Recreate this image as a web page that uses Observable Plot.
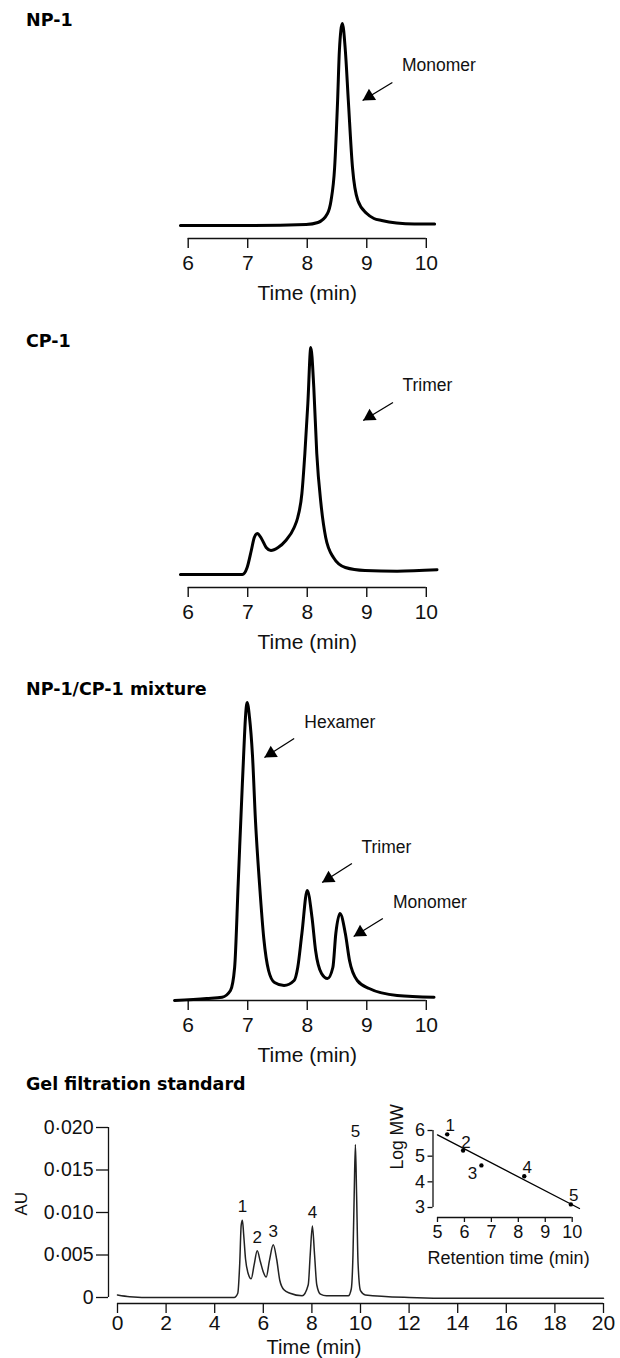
<!DOCTYPE html>
<html><head><meta charset="utf-8">
<script src="https://cdn.jsdelivr.net/npm/d3@7"></script>
<script src="https://cdn.jsdelivr.net/npm/@observablehq/plot@0.6"></script>
<style>
body{margin:0;background:#fff;}
#wrap{position:relative;width:620px;height:1358px;overflow:hidden;background:#fff;}
#wrap svg text{font-family:'Liberation Sans',Arial,Helvetica,sans-serif;}
.title{position:absolute;left:26px;font-family:'DejaVu Sans',sans-serif;font-weight:bold;font-size:17.5px;line-height:17.5px;color:#000;white-space:nowrap;}
</style></head><body><div id="wrap"></div>
<script>
// ---------- data ----------
const xTicks = [6, 7, 8, 9, 10];

const np1Time   = [5.87, 7.0, 7.98, 8.18, 8.34, 8.40, 8.46, 8.51, 8.54, 8.59, 8.64, 8.69, 8.76, 8.85, 9.0, 9.12, 9.25, 9.5, 9.8, 10.14];
const np1Signal = [0, 0, 1, 3, 12, 25, 58, 125, 175, 202, 175, 125, 58, 25, 12, 7, 5, 2.5, 1.5, 1.5];

const cp1Time   = [5.87, 6.91, 6.99, 7.06, 7.11, 7.16, 7.23, 7.31, 7.39, 7.51, 7.64, 7.78, 7.84, 7.91, 7.96, 8.01, 8.06, 8.11, 8.16, 8.23, 8.31, 8.44, 8.64, 8.97, 9.51, 10.18];
const cp1Signal = [0, 0, 7, 24, 37, 41, 36, 27, 24, 27, 34, 47, 57, 81, 121, 171, 227, 187, 121, 71, 37, 17, 7, 4, 3.3, 4.7];

const mixTime   = [5.77, 6.31, 6.57, 6.71, 6.78, 6.84, 6.91, 6.99, 7.03, 7.08, 7.13, 7.2, 7.27, 7.35, 7.45, 7.61, 7.78, 7.84, 7.91, 8.0, 8.08, 8.14, 8.24, 8.34, 8.43, 8.48, 8.55, 8.64, 8.71, 8.84, 9.04, 9.51, 10.13];
const mixSignal = [0, 2, 3.3, 10, 33, 117, 217, 298, 283, 245, 180, 115, 62, 30, 18, 15, 20, 33, 67, 110, 83, 50, 27, 22, 33, 67, 87, 67, 40, 20, 12, 5, 3.3];

// annotations: label text, label anchor, arrow tail, arrow tip (time, signal)
const np1Notes = {label: ["Monomer"], labT: [9.59], labS: [160], tailT: [9.43], tailS: [143], tipT: [8.93], tipS: [125]};
const cp1Notes = {label: ["Trimer"], labT: [9.6], labS: [189], tailT: [9.44], tailS: [172], tipT: [8.94], tipS: [154]};
const mixNotes = {
  label: ["Hexamer", "Trimer", "Monomer"],
  labT: [7.95, 8.91, 9.44], labS: [278, 153, 98],
  tailT: [7.78, 8.75, 9.27], tailS: [262, 137, 82],
  tipT: [7.28, 8.25, 8.78], tipS: [243, 118, 64]
};

const gelTime = [0, 0.5, 1.5, 4.8, 4.95, 5.03, 5.09, 5.14, 5.19, 5.27, 5.38, 5.5, 5.62, 5.75, 5.88, 6.0, 6.12, 6.25, 6.41, 6.55, 6.68, 6.85, 7.1, 7.6, 7.85, 7.93, 8.02, 8.11, 8.2, 8.35, 8.6, 9.5, 9.62, 9.69, 9.74, 9.79, 9.84, 9.9, 10.0, 10.2, 12, 14, 20];
const gelAU   = [0.0003, 0.0001, 0, 0, 0.0005, 0.004, 0.0085, 0.0091, 0.0075, 0.0045, 0.0028, 0.0022, 0.0038, 0.0055, 0.0042, 0.003, 0.0024, 0.0043, 0.0062, 0.0045, 0.002, 0.0009, 0.0005, 0.0002, 0.0015, 0.005, 0.0084, 0.005, 0.0015, 0.0004, 0.0002, 0.0002, 0.001, 0.005, 0.012, 0.018, 0.012, 0.004, 0.0008, 0.0003, 0, -0.0001, -0.0001];
const gelXTicks = [0, 2, 4, 6, 8, 10, 12, 14, 16, 18, 20];
const gelYTicks = [0, 0.005, 0.010, 0.015, 0.020];
const gelPeakLabel = ["1", "2", "3", "4", "5"];
const gelPeakTime  = [5.14, 5.75, 6.41, 8.02, 9.79];
const gelPeakAU    = [0.0091, 0.0055, 0.0062, 0.0084, 0.018];

const stdLabel  = ["1", "2", "3", "4", "5"];
const stdTime   = [5.36, 5.95, 6.63, 8.22, 9.95];
const stdLogMW  = [5.85, 5.22, 4.64, 4.22, 3.12];
const fitTime   = [5.0, 10.27];
const fitLogMW  = [5.83, 2.96];
const insetXTicks = [5, 6, 7, 8, 9, 10];
const insetYTicks = [3, 4, 5, 6];

// ---------- drawing ----------
const FONT = "'Liberation Sans', Arial, Helvetica, sans-serif";
const INK = "#111";
const intFmt = d => `${d}`;
const wrap = document.getElementById("wrap");

function place(el, top, left = 0) {
  el.style.position = "absolute";
  el.style.top = top + "px";
  el.style.left = left + "px";
  wrap.appendChild(el);
}
function title(text, top) {
  const d = document.createElement("div");
  d.className = "title";
  d.textContent = text;
  d.style.top = top + "px";
  wrap.appendChild(d);
}
function notesRows(n) {
  return n.label.map((label, i) => ({label, labT: n.labT[i], labS: n.labS[i], tailT: n.tailT[i], tailS: n.tailS[i], tipT: n.tipT[i], tipS: n.tipS[i]}));
}

function chrom({time, signal, notes, height, marginTop, marginBottom, inset}) {
  const data = time.map((t, i) => ({t, s: signal[i]}));
  const rows = notesRows(notes);
  return Plot.plot({
    width: 620, height, marginLeft: 187.7, marginRight: 194.2, marginTop, marginBottom,
    style: {fontFamily: FONT, fontSize: "21px", color: INK, background: "transparent", overflow: "visible"},
    x: {domain: [xTicks[0], xTicks[xTicks.length - 1]]},
    y: {domain: [0, d3.max(signal)], insetBottom: inset, axis: null},
    marks: [
      Plot.ruleY([0], {x1: xTicks[0], x2: xTicks[xTicks.length - 1], dy: inset, stroke: INK, strokeWidth: 1.4}),
      Plot.axisX({ticks: xTicks, tickFormat: intFmt, tickSize: 10, tickPadding: 7, label: null, strokeWidth: 1.4, fontSize: 21, fontFamily: FONT}),
      Plot.text(["Time (min)"], {text: d => d, frameAnchor: "bottom", lineAnchor: "top", dy: 46.5, fontSize: 21, fontFamily: FONT}),
      Plot.line(data, {x: "t", y: "s", curve: "monotone-x", stroke: "#000", strokeWidth: 3, strokeLinejoin: "round"}),
      Plot.link(rows, {x1: "tailT", y1: "tailS", x2: "tipT", y2: "tipS", stroke: "#000", strokeWidth: 1.3}),
      Plot.dot(rows, {x: "tipT", y: "tipS", symbol: "triangle", r: 5, fill: "#000", stroke: "none", rotate: 238, dx: 6.6, dy: -4.1}),
      Plot.text(rows, {x: "labT", y: "labS", text: "label", textAnchor: "start", fontSize: 17.5, fill: INK, fontFamily: FONT})
    ]
  });
}

title("NP-1", 12);
place(chrom({time: np1Time, signal: np1Signal, notes: np1Notes, height: 310, marginTop: 23, marginBottom: 72, inset: 13}), 0);

title("CP-1", 333);
place(chrom({time: cp1Time, signal: cp1Signal, notes: cp1Notes, height: 330, marginTop: 27, marginBottom: 63, inset: 13}), 320);

title("NP-1/CP-1 mixture", 681);
place(chrom({time: mixTime, signal: mixSignal, notes: mixNotes, height: 420, marginTop: 52, marginBottom: 70, inset: 0}), 650);

// gel filtration standard
title("Gel filtration standard", 1076);
const fmtAU = v => v === 0 ? "0" : d3.format(".3f")(v).replace(".", "\u00b7");
const gel = gelTime.map((t, i) => ({t, v: gelAU[i]}));
const gelPeaks = gelPeakLabel.map((label, i) => ({label, t: gelPeakTime[i], v: gelPeakAU[i]}));
const gelPlot = Plot.plot({
  width: 620, height: 288, marginLeft: 108, marginRight: 17, marginTop: 57, marginBottom: 55,
  style: {fontFamily: FONT, fontSize: "21px", color: INK, background: "transparent", overflow: "visible"},
  x: {domain: [gelXTicks[0], gelXTicks[gelXTicks.length - 1]], insetLeft: 9},
  y: {domain: [gelYTicks[0], gelYTicks[gelYTicks.length - 1]], insetBottom: 6},
  marks: [
    Plot.ruleX([gelXTicks[0]], {y1: gelYTicks[0], y2: gelYTicks[gelYTicks.length - 1], dx: -9, stroke: INK, strokeWidth: 1.3}),
    Plot.ruleY([gelYTicks[0]], {x1: gelXTicks[0], x2: gelXTicks[gelXTicks.length - 1], dy: 6, stroke: INK, strokeWidth: 1.3}),
    Plot.axisX({ticks: gelXTicks, tickFormat: intFmt, tickSize: 10, tickPadding: 2, label: null, strokeWidth: 1.3, fontSize: 21, fontFamily: FONT}),
    Plot.axisY({ticks: gelYTicks, tickSize: 12, tickPadding: 3, tickFormat: fmtAU, label: null, strokeWidth: 1.3, fontSize: 19.5, fontFamily: FONT}),
    Plot.text(["Time (min)"], {text: d => d, frameAnchor: "bottom", lineAnchor: "top", dy: 36, dx: -42, fontSize: 20, fontFamily: FONT}),
    Plot.text(["AU"], {text: d => d, frameAnchor: "left", rotate: -90, dx: -87, fontSize: 17, fontFamily: FONT}),
    Plot.line(gel, {x: "t", y: "v", curve: "monotone-x", stroke: "#222", strokeWidth: 1.5}),
    Plot.text(gelPeaks, {x: "t", y: "v", text: "label", lineAnchor: "bottom", dy: -8, fontSize: 17, fontFamily: FONT})
  ]
});
place(gelPlot, 1070);

// inset: log MW vs retention time
const std = stdLabel.map((label, i) => ({label, t: stdTime[i], m: stdLogMW[i]}));
const fit = fitTime.map((t, i) => ({t, m: fitLogMW[i]}));
const insetPlot = Plot.plot({
  width: 280, height: 175, marginLeft: 102.5, marginRight: 38.3, marginTop: 30, marginBottom: 58,
  style: {fontFamily: FONT, fontSize: "18px", color: INK, background: "transparent", overflow: "visible"},
  x: {domain: [insetXTicks[0], insetXTicks[insetXTicks.length - 1]], insetLeft: 4.5},
  y: {domain: [insetYTicks[0], insetYTicks[insetYTicks.length - 1]], insetBottom: 10},
  marks: [
    Plot.ruleX([insetXTicks[0]], {y1: insetYTicks[0], y2: insetYTicks[insetYTicks.length - 1], dx: -4.5, stroke: INK, strokeWidth: 1.3}),
    Plot.ruleY([insetYTicks[0]], {x1: insetXTicks[0], x2: insetXTicks[insetXTicks.length - 1], dy: 10, stroke: INK, strokeWidth: 1.3}),
    Plot.axisX({ticks: insetXTicks, tickFormat: intFmt, tickSize: 5, tickPadding: 3, label: null, strokeWidth: 1.3, fontSize: 18, fontFamily: FONT}),
    Plot.axisY({ticks: insetYTicks, tickFormat: intFmt, tickSize: 5, tickPadding: 3, label: null, strokeWidth: 1.3, fontSize: 18, fontFamily: FONT}),
    Plot.text(["Retention time (min)"], {text: d => d, frameAnchor: "bottom", lineAnchor: "top", dy: 34, dx: 6, fontSize: 18, fontFamily: FONT}),
    Plot.text(["Log MW"], {text: d => d, frameAnchor: "left", rotate: -90, dx: -35.5, dy: -4.5, fontSize: 17.5, fontFamily: FONT}),
    Plot.line(fit, {x: "t", y: "m", stroke: "#000", strokeWidth: 1.3}),
    Plot.dot(std, {x: "t", y: "m", r: 2.2, fill: "#000", stroke: "none"}),
    Plot.text(std.filter(d => d.label !== "3"), {x: "t", y: "m", text: "label", lineAnchor: "bottom", dx: 3, dy: -3, fontSize: 17, fontFamily: FONT}),
    Plot.text(std.filter(d => d.label === "3"), {x: "t", y: "m", text: "label", dx: -9, dy: 8, fontSize: 17, fontFamily: FONT})
  ]
});
place(insetPlot, 1100, 330);
</script></body></html>
